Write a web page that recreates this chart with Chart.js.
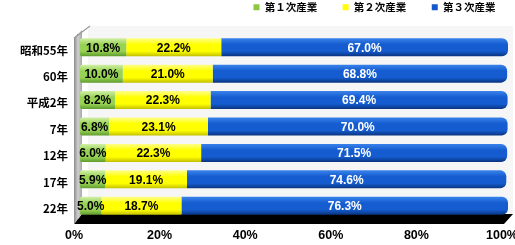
<!DOCTYPE html>
<html><head><meta charset="utf-8">
<script src="https://cdn.jsdelivr.net/npm/chart.js@4/dist/chart.umd.min.js"></script>
<style>html,body{margin:0;padding:0;background:#fff}#wrap{width:515px;height:245px}</style>
</head><body><div id="wrap"><canvas id="c" width="515" height="245"></canvas></div>
<script>
const categories = ['昭和55年','60年','平成2年','7年','12年','17年','22年'];
const seriesNames = ['第１次産業','第２次産業','第３次産業'];
const primary = [10.8, 10.0, 8.2, 6.8, 6.0, 5.9, 5.0];
const secondary = [22.2, 21.0, 22.3, 23.1, 22.3, 19.1, 18.7];
const tertiary = [67.0, 68.8, 69.4, 70.0, 71.5, 74.6, 76.3];
const xTicks = [0, 20, 40, 60, 80, 100];

const stops = [
  ['#d2f0a6','#98d255','#5e9c2c'],
  ['#ffff8a','#ffff00','#c2c000'],
  ['#3a82ea','#145ccf','#0a347f']
];
const solids = ['#8dc63f','#ffff00','#1458cc'];
const textColors = ['#000','#000','#fff'];
const legendPad = ['\u3000\u3000 ', '\u3000\u3000 ', '\u3000'];

function grad(i){
  return function(ctx){
    const meta = ctx.chart.getDatasetMeta(ctx.datasetIndex);
    const el = meta && meta.data[ctx.dataIndex];
    if(!el || typeof el.y !== 'number' || !isFinite(el.y) || !el.height) return solids[i];
    const h = el.height, y0 = el.y - h/2;
    const g = ctx.chart.ctx.createLinearGradient(0, y0, 0, y0 + h);
    g.addColorStop(0, stops[i][0]);
    g.addColorStop(0.35, stops[i][1]);
    g.addColorStop(0.72, stops[i][1]);
    g.addColorStop(1, stops[i][2]);
    return g;
  };
}

const decor = {
  id:'decor',
  beforeDatasetsDraw(chart){
    const c = chart.ctx, a = chart.chartArea;
    c.save();
    c.fillStyle = 'rgba(0,0,0,0.035)';
    c.beginPath();
    c.moveTo(a.left+8, a.top-8); c.lineTo(a.right+5, a.top-8);
    c.lineTo(a.right+5, a.bottom-4); c.lineTo(a.left+8, a.bottom-4); c.closePath(); c.fill();
    // floor
    c.fillStyle = '#000';
    c.beginPath();
    c.moveTo(a.left-6, a.bottom+5); c.lineTo(a.right-4, a.bottom+5);
    c.lineTo(a.right+5, a.bottom-5); c.lineTo(a.left+2, a.bottom-5); c.closePath(); c.fill();
    // left wall
    const g = c.createLinearGradient(a.left-6, 0, a.left+2, 0);
    g.addColorStop(0, '#8c8c8c'); g.addColorStop(0.5,'#cfcfcf'); g.addColorStop(1,'#a8a8a8');
    c.fillStyle = g;
    c.beginPath();
    c.moveTo(a.left-6, a.top+4); c.lineTo(a.left+2, a.top-4);
    c.lineTo(a.left+2, a.bottom-5); c.lineTo(a.left-6, a.bottom+5); c.closePath(); c.fill();
    c.strokeStyle = '#9a9a9a'; c.lineWidth = 1.2;
    c.beginPath(); c.moveTo(a.left-6, a.top+4); c.lineTo(a.left+10, a.top-8); c.stroke();
    c.restore();
  },
  afterDatasetsDraw(chart){
    const c = chart.ctx;
    c.save();
    c.font = 'bold 12px "Liberation Sans", Arial, sans-serif';
    c.textAlign = 'center'; c.textBaseline = 'middle';
    chart.data.datasets.forEach((ds, di) => {
      const meta = chart.getDatasetMeta(di);
      meta.data.forEach((el, i) => {
        const v = ds.data[i];
        c.fillStyle = textColors[di];
        c.fillText(v.toFixed(1) + '%', (el.x + el.base)/2, el.y + 1);
      });
    });
    c.restore();
  }
};

const legendFix = {
  id:'legendFix',
  beforeInit(chart){
    const lg = chart.legend;
    if(lg){ const f = lg.fit; lg.fit = function(){ f.call(this); this.height = 34; }; }
  }
};

const chart = new Chart(document.getElementById('c'), {
  type:'bar',
  data:{
    labels: categories,
    datasets:[
      {label: seriesNames[0], data: primary, backgroundColor: grad(0), borderRadius:{topLeft:2,bottomLeft:2}, borderSkipped:false},
      {label: seriesNames[1], data: secondary, backgroundColor: grad(1)},
      {label: seriesNames[2], data: tertiary, backgroundColor: grad(2), borderRadius:{topRight:6,bottomRight:6}, borderSkipped:false}
    ]
  },
  options:{
    indexAxis:'y',
    responsive:false,
    animation:false,
    devicePixelRatio:1,
    layout:{padding:{left:0,right:7,top:0,bottom:0}},
    datasets:{bar:{categoryPercentage:1, barPercentage:0.68}},
    plugins:{
      legend:{
        align:'end',
        labels:{
          boxWidth:6, boxHeight:6, padding:2, color:'#000',
          font:{family:'"Noto Sans CJK JP", sans-serif', size:10.5, weight:'bold'},
          generateLabels(ch){
            return ch.data.datasets.map((d,i)=>({text:d.label + legendPad[i], fillStyle:solids[i], strokeStyle:solids[i], lineWidth:0, datasetIndex:i, hidden:false}));
          }
        }
      },
      tooltip:{enabled:false}
    },
    scales:{
      x:{
        stacked:true, min:0, max:100,
        afterBuildTicks(s){ s.ticks = xTicks.map(v=>({value:v})); },
        afterFit(s){ s.height = 26; s.paddingLeft = 0; s.paddingRight = 0; },
        grid:{display:false, drawTicks:false},
        border:{display:false},
        ticks:{padding:9, labelOffset:-6, color:'#000', callback:v=>v+'%',
          font:{family:'"Liberation Sans", Arial, sans-serif', size:12.5, weight:'bold'}}
      },
      y:{
        stacked:true,
        afterFit(s){ s.width = 80; },
        grid:{drawOnChartArea:false, tickLength:3, color:'#222', lineWidth:1},
        border:{display:false},
        ticks:{padding:9, labelOffset:3, color:'#000',
          font:{family:'"Noto Sans CJK JP", sans-serif', size:11.5, weight:'bold'}}
      }
    }
  },
  plugins:[decor, legendFix]
});
chart.update('none');
</script></body></html>
